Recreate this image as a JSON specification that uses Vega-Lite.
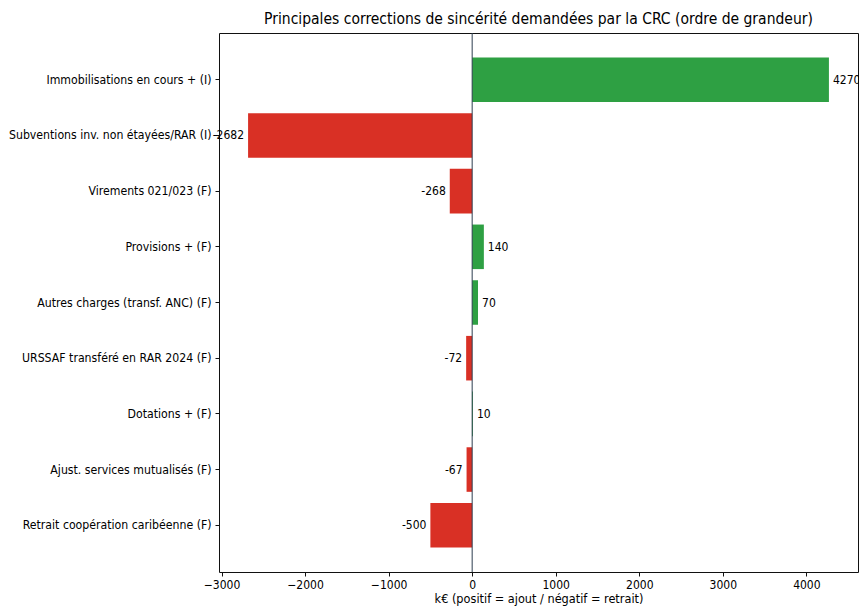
{
  "$schema": "https://vega.github.io/schema/vega-lite/v6.json",
  "autosize": {"type": "none"},
  "padding": {"left": 219, "top": 33, "right": 1, "bottom": 35},
  "width": 639,
  "height": 539,
  "background": "white",
  "config": {
    "font": "DejaVu Sans Condensed",
    "view": {"stroke": "#111", "strokeWidth": 1},
    "axis": {"grid": false, "domain": false, "tickColor": "#111", "labelColor": "#000", "titleColor": "#000", "labelFont": "DejaVu Sans Condensed", "titleFont": "DejaVu Sans Condensed"}
  },
  "title": {"text": "Principales corrections de sincérité demandées par la CRC (ordre de grandeur)", "fontSize": 15.5, "fontWeight": "normal", "font": "DejaVu Sans Condensed", "color": "#000", "offset": 5, "anchor": "middle"},
  "datasets": {
    "bars": [
      {"item": "Immobilisations en cours + (I)", "value": 4270},
      {"item": "Subventions inv. non étayées/RAR (I)", "value": -2682},
      {"item": "Virements 021/023 (F)", "value": -268},
      {"item": "Provisions + (F)", "value": 140},
      {"item": "Autres charges (transf. ANC) (F)", "value": 70},
      {"item": "URSSAF transféré en RAR 2024 (F)", "value": -72},
      {"item": "Dotations + (F)", "value": 10},
      {"item": "Ajust. services mutualisés (F)", "value": -67},
      {"item": "Retrait coopération caribéenne (F)", "value": -500}
    ],
    "zero": [{"x": 0}]
  },
  "layer": [
    {
      "data": {"name": "bars"},
      "mark": {"type": "bar"},
      "encoding": {
        "y": {"field": "item", "type": "nominal", "sort": null, "title": null,
              "scale": {"paddingInner": 0.2, "paddingOuter": 0.44},
              "axis": {"labelFontSize": 12.2, "labelPadding": 4, "tickSize": 4, "labelLimit": 300}},
        "x": {"field": "value", "type": "quantitative",
              "scale": {"domain": [-3030, 4618], "nice": false, "zero": false},
              "title": "k€ (positif = ajout / négatif = retrait)",
              "axis": {"values": [-3000, -2000, -1000, 0, 1000, 2000, 3000, 4000], "format": "d", "labelFontSize": 12, "titleFontSize": 12.6, "titleFontWeight": "normal", "tickSize": 4, "labelPadding": 3, "titlePadding": 2}},
        "color": {"condition": {"test": "datum.value >= 0", "value": "#2ea043"}, "value": "#d93025"}
      }
    },
    {
      "data": {"name": "zero"},
      "mark": {"type": "rule", "color": "#2c3e50", "strokeWidth": 1},
      "encoding": {"x": {"field": "x", "type": "quantitative"}}
    },
    {
      "data": {"name": "bars"},
      "transform": [{"filter": "datum.value >= 0"}],
      "mark": {"type": "text", "align": "left", "baseline": "middle", "dx": 4, "fontSize": 12, "color": "#000"},
      "encoding": {
        "y": {"field": "item", "type": "nominal", "sort": null},
        "x": {"field": "value", "type": "quantitative"},
        "text": {"field": "value", "type": "nominal"}
      }
    },
    {
      "data": {"name": "bars"},
      "transform": [{"filter": "datum.value < 0"}],
      "mark": {"type": "text", "align": "right", "baseline": "middle", "dx": -4, "fontSize": 12, "color": "#000"},
      "encoding": {
        "y": {"field": "item", "type": "nominal", "sort": null},
        "x": {"field": "value", "type": "quantitative"},
        "text": {"field": "value", "type": "nominal"}
      }
    }
  ]
}
